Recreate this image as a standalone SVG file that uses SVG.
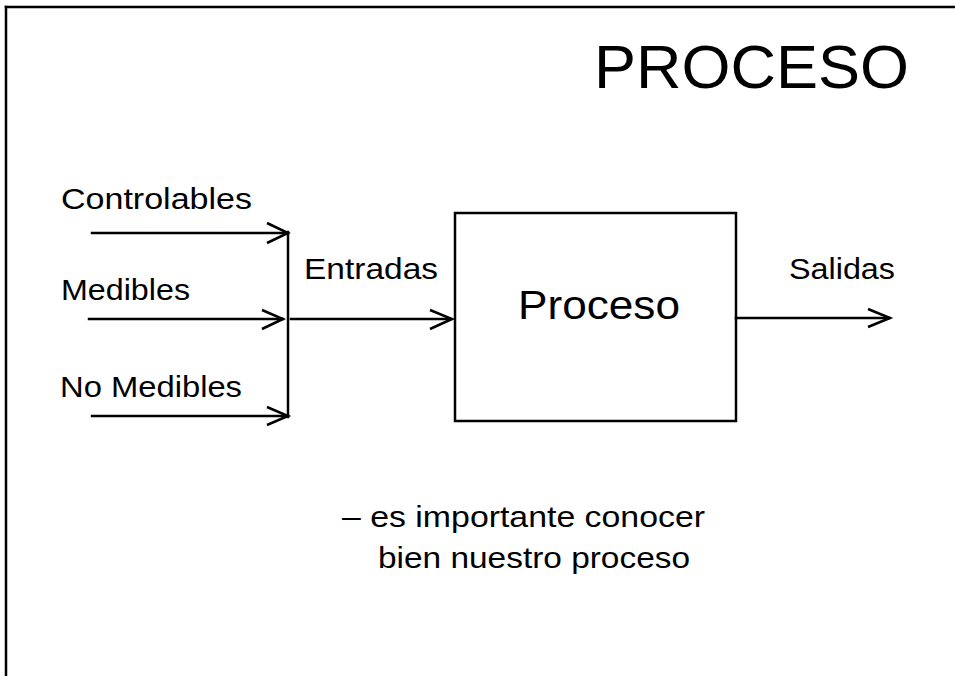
<svg xmlns="http://www.w3.org/2000/svg" width="955" height="676" viewBox="0 0 955 676">
<style>
text{font-family:"Liberation Sans",Arial,sans-serif;fill:#000}
.lbl{font-size:29.5px}
.ln{stroke:#000;stroke-width:2.5;fill:none;stroke-linecap:square}
.hd{stroke:#000;stroke-width:2.5;fill:none;stroke-linejoin:miter}
</style>
<rect width="955" height="676" fill="#fff"/>
<g id="frame">
<line class="ln" x1="6" y1="7" x2="955" y2="7" stroke-width="3"/>
<line class="ln" x1="6" y1="7" x2="6" y2="676" stroke-width="3"/>
</g>
<g id="title">
<text x="594" y="88" font-size="62" textLength="315" lengthAdjust="spacingAndGlyphs">PROCESO</text>
</g>
<g id="controlables"><text class="lbl" x="61" y="209" textLength="191" lengthAdjust="spacingAndGlyphs">Controlables</text></g>
<g id="medibles"><text class="lbl" x="61" y="300" textLength="129" lengthAdjust="spacingAndGlyphs">Medibles</text></g>
<g id="nomedibles"><text class="lbl" x="60" y="397" textLength="182" lengthAdjust="spacingAndGlyphs">No Medibles</text></g>
<g id="proceso">
<rect x="455" y="213" width="281" height="208" fill="none" stroke="#000" stroke-width="2.5"/>
<text x="518" y="319" font-size="41" textLength="162" lengthAdjust="spacingAndGlyphs">Proceso</text>
</g>
<g id="connectors">
<line class="ln" x1="92" y1="233" x2="287" y2="233"/>
<polyline class="hd" points="267,223 288,233 267,243"/>
<line class="ln" x1="89" y1="319" x2="283" y2="319"/>
<polyline class="hd" points="262,310 283,319 262,329"/>
<line class="ln" x1="92" y1="416" x2="287" y2="416"/>
<polyline class="hd" points="267,407 288,416 267,425"/>
<line class="ln" x1="288" y1="232" x2="288" y2="417"/>
<line class="ln" x1="291" y1="319" x2="451" y2="319"/>
<polyline class="hd" points="430,310 452,319 430,329"/>
<line class="ln" x1="736" y1="318" x2="889" y2="318"/>
<polyline class="hd" points="868,309 890,318 868,327"/>
</g>
<g id="labels">
<text class="lbl" x="304" y="279" textLength="134" lengthAdjust="spacingAndGlyphs">Entradas</text>
<text class="lbl" x="789" y="279" textLength="106" lengthAdjust="spacingAndGlyphs">Salidas</text>
</g>
<g id="note">
<text class="lbl" x="342" y="527" textLength="363" lengthAdjust="spacingAndGlyphs">– es importante conocer</text>
<text class="lbl" x="378" y="568" textLength="312" lengthAdjust="spacingAndGlyphs">bien nuestro proceso</text>
</g>
</svg>
